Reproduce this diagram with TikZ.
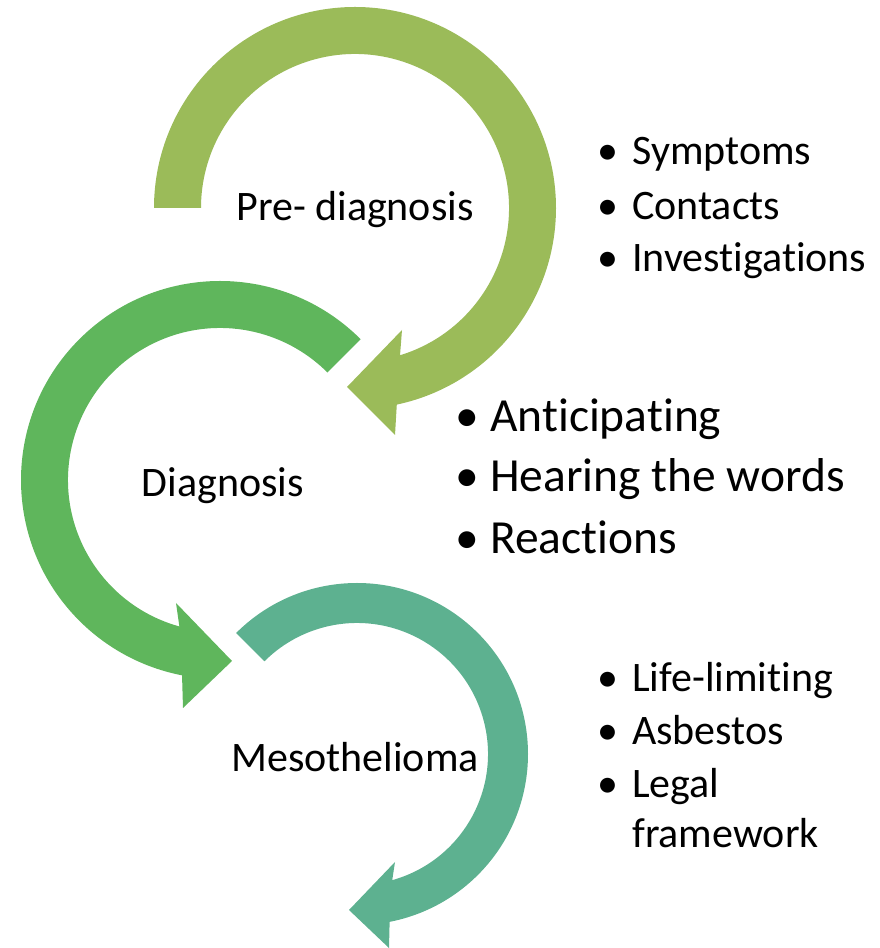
\documentclass[tikz,border=0pt]{standalone}
\usepackage{fontspec}
\setmainfont{Carlito}[Ligatures={NoCommon}]
\usepackage{tikz}
\usetikzlibrary{positioning}
\definecolor{stageolive}{HTML}{9BBB59}
\definecolor{stagegreen}{HTML}{5FB65C}
\definecolor{stageteal}{HTML}{5DB190}

\begin{document}
\begin{tikzpicture}[x=1pt,y=1pt]

\tikzset{
stagelabel/.style={
anchor=base,
inner sep=0pt,
font=\fontsize{42}{50}\selectfont
},
bulletitem/.style={
anchor=base west,
inner sep=0pt,
font=\fontsize{42}{50}\selectfont
},
bigitem/.style={
anchor=base west,
inner sep=0pt,
font=\fontsize{47.5}{57}\selectfont
}
}

\useasboundingbox (0,0) rectangle (880,948);

%--------------------------------------------------
% ARROWS
%--------------------------------------------------

\coordinate (prectr) at (355,740);
\coordinate (diagctr) at (220,468);
\coordinate (mesoctr) at (357,194);

\fill[stageolive] ([shift={(180:201)}]prectr) arc[start angle=180,end angle=-78,radius=201]
  -- (395,513) -- (347,561) -- (402,618)
  -- ([shift={(-73:154)}]prectr) arc[start angle=-73,end angle=180,radius=154] -- cycle;

\fill[stagegreen] ([shift={(45:199)}]diagctr) arc[start angle=45,end angle=259,radius=199]
  -- (183,240) -- (232,287) -- (176,345)
  -- ([shift={(254.5:152)}]diagctr) arc[start angle=254.5,end angle=45,radius=152] -- cycle;

\fill[stageteal] ([shift={(135:171)}]mesoctr) arc[start angle=135,end angle=-79,radius=171]
  -- (389,0) -- (349,38) -- (395,86)
  -- ([shift={(-74.4:131)}]mesoctr) arc[start angle=-74.4,end angle=135,radius=131] -- cycle;

%--------------------------------------------------
% STAGES
%--------------------------------------------------

\node[stagelabel] (prediag) at (355,727) {Pre- diagnosis};
\node[stagelabel] (diag) at (223,451) {Diagnosis};
\node[stagelabel] (meso) at (355,176) {Mesothelioma};

%--------------------------------------------------
% PRE-DIAGNOSIS ITEMS
%--------------------------------------------------

\node[bulletitem] (symptoms) at (597,783) {\makebox[35pt][l]{\textbullet}Symptoms};
\node[bulletitem] (contacts) at (597,728) {\makebox[35pt][l]{\textbullet}Contacts};
\node[bulletitem] (investig) at (597,676) {\makebox[35pt][l]{\textbullet}Investigations};

%--------------------------------------------------
% DIAGNOSIS ITEMS
%--------------------------------------------------

\node[bigitem] (anticip) at (455,516) {\makebox[35pt][l]{\textbullet}Anticipating};
\node[bigitem] (hearing) at (455,456) {\makebox[35pt][l]{\textbullet}Hearing the words};
\node[bigitem] (reactions) at (455,394) {\makebox[35pt][l]{\textbullet}Reactions};

%--------------------------------------------------
% MESOTHELIOMA ITEMS
%--------------------------------------------------

\node[bulletitem] (lifelim) at (597,256) {\makebox[35pt][l]{\textbullet}Life-limiting};
\node[bulletitem] (asbestos) at (597,203) {\makebox[35pt][l]{\textbullet}Asbestos};
\node[bulletitem] (legal) at (597,150) {\makebox[35pt][l]{\textbullet}Legal};
\node[bulletitem] (framework) at (632,100) {framework};

\end{tikzpicture}
\end{document}
